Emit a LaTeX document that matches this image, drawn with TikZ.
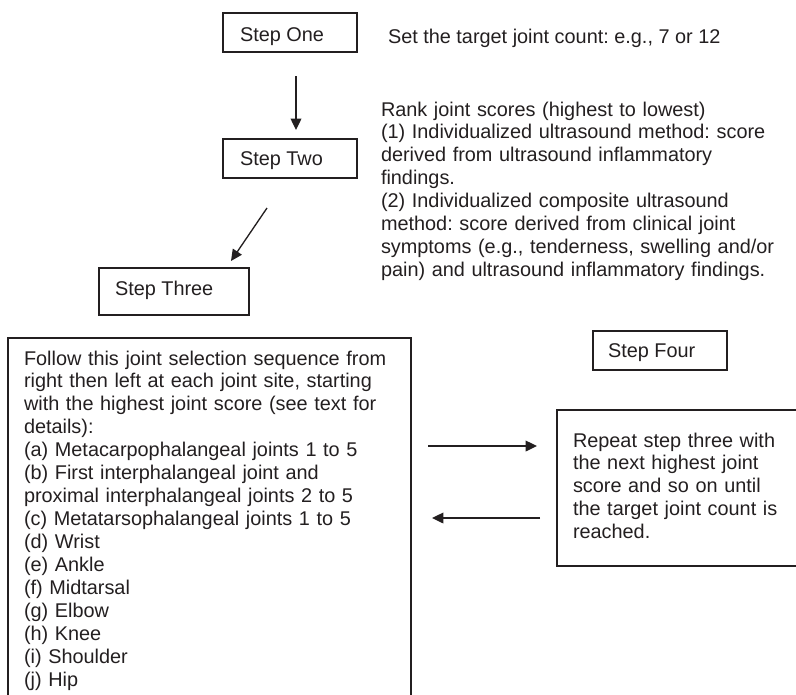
\documentclass[tikz,border=0pt]{standalone}
\usepackage{fontspec}
\setmainfont{Liberation Sans}
\usetikzlibrary{arrows.meta}
\definecolor{ink}{RGB}{35,31,32}
\frenchspacing
\begin{document}
\begin{tikzpicture}[x=0.75pt,y=-0.75pt,
  box/.style={draw=ink, line width=1pt, rectangle, inner sep=0pt, outer sep=0pt, anchor=north west},
  txt/.style={text=ink, inner sep=0pt, outer sep=0pt, anchor=base west, align=left,
    font=\fontsize{14.9pt}{17.2pt}\selectfont\frenchspacing},
  conn/.style={draw=ink, line width=1pt, -{Triangle[length=8.5pt,width=8pt]}}]
\useasboundingbox (0,0) rectangle (796,694);
\clip (0,0) rectangle (796,694);
% boxes
\node[box, minimum width=100.5pt, minimum height=29.25pt] (s1) at (223,13) {};
\node[box, minimum width=100.5pt, minimum height=29.25pt] (s2) at (223,139) {};
\node[box, minimum width=112.5pt, minimum height=35.25pt] (s3) at (99,268) {};
\node[box, minimum width=302.25pt, minimum height=279pt] (big) at (8,338) {};
\node[box, minimum width=100.5pt, minimum height=29.25pt] (s4) at (593,331) {};
\node[box, minimum width=186pt, minimum height=117pt] (rep) at (557,410) {};
% box labels
\node[txt] (t1) at (240,41) {Step One};
\node[txt] (t2) at (240,165) {Step Two};
\node[txt] (t3) at (115,295) {Step Three};
\node[txt] (t4) at (608,357) {Step Four};
% texts
\node[txt] (set) at (388,43) {Set the target joint count: e.g., 7 or 12};
\node[txt, text width=320pt] (rank) at (381,116) {Rank joint scores (highest to lowest)\\
(1) Individualized ultrasound method: score\\
derived from ultrasound inflammatory\\
findings.\\
(2) Individualized composite ultrasound\\
method: score derived from clinical joint\\
symptoms (e.g., tenderness, swelling and/or\\
pain) and ultrasound inflammatory findings.};
\node[txt, text width=290pt] (seq) at (24,365) {Follow this joint selection sequence from\\
right then left at each joint site, starting\\
with the highest joint score (see text for\\
details):\\
(a) Metacarpophalangeal joints 1 to 5\\
(b) First interphalangeal joint and\\
proximal interphalangeal joints 2 to 5\\
(c) Metatarsophalangeal joints 1 to 5\\
(d) Wrist\\
(e) Ankle\\
(f) Midtarsal\\
(g) Elbow\\
(h) Knee\\
(i) Shoulder\\
(j) Hip};
\node[txt, text width=170pt] (reptxt) at (573,447) {Repeat step three with\\
the next highest joint\\
score and so on until\\
the target joint count is\\
reached.};
% arrow end points
\coordinate (a1s) at (296,76);
\coordinate (a1e) at (296,130);
\coordinate (a2s) at (267,208);
\coordinate (a2e) at (231,261);
\coordinate (a3s) at (428,446);
\coordinate (a3e) at (537,446);
\coordinate (a4s) at (540,518);
\coordinate (a4e) at (432,518);
\draw[conn] (a1s) -- (a1e);
\draw[conn] (a2s) -- (a2e);
\draw[conn] (a3s) -- (a3e);
\draw[conn] (a4s) -- (a4e);
\end{tikzpicture}
\end{document}
